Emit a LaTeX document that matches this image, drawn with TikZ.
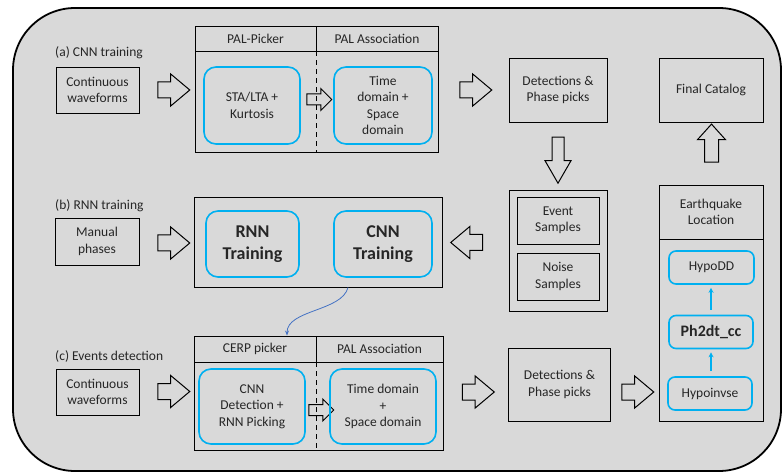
\documentclass[tikz,border=0pt]{standalone}
\usepackage{fontspec}
\setmainfont{Carlito}
\usepackage{tikz}
\usetikzlibrary{shapes.arrows, arrows.meta}
\usetikzlibrary{calc}
\definecolor{bggray}{HTML}{D9D9D9}
\definecolor{lblue}{HTML}{00B0F0}
\definecolor{cblue}{HTML}{4472C4}
\newcommand{\txt}{\fontsize{13.5}{16.5}\selectfont}
\tikzstyle{box} = [rectangle, draw = black, line width=0.9pt, align=center, inner sep=0pt, text=black!85, font=\txt]
\tikzstyle{rbox} = [rectangle, rounded corners=12pt, draw = lblue, line width=1.6pt, align=center, inner sep=0pt, text=black!85, font=\txt]
\tikzstyle{lbl} = [anchor=west, inner sep=0pt, text=black!85, font=\txt]
\tikzstyle{barrow} = [single arrow, draw = black, line width=1pt, inner xsep=0pt, inner ysep=7.5pt, single arrow head extend=8pt, single arrow tip angle=80, minimum height=32pt]
\tikzstyle{sarrow} = [single arrow, draw = black, line width=1pt, inner xsep=0pt, inner ysep=5pt, single arrow head extend=5.5pt, minimum height=25pt]
\tikzstyle{arrow} = [-{Stealth[length=5pt,width=5pt]}, draw = lblue, line width=1.6pt]
\tikzstyle{divider} = [line width=1.2pt, dash pattern=on 5pt off 4pt]

\begin{document}
\begin{tikzpicture}[x=1pt, y=-1pt]
	\useasboundingbox (0,0) rectangle (782,473);
	\draw [fill=bggray, line width=1.8pt, rounded corners=62pt] (13,8) rectangle (781,471);
	% (a) CNN training
	\node (labA) [lbl] at (55,53) {(a) CNN training};
	\node (cwA) [box, minimum width=83pt, minimum height=46pt] at (97.5,90) {Continuous\\waveforms};
	\node (arrA1) [barrow] at (169,90) {};
	\node (grpA) [box, minimum width=243pt, minimum height=126pt] at (316.5,89) {};
	\node (hdA1) [box, minimum width=121pt, minimum height=25pt] at (255.5,38.5) {PAL-Picker};
	\node (hdA2) [box, minimum width=122pt, minimum height=25pt] at (377,38.5) {PAL Association};
	\draw [divider] (hdA1.south east) -- (hdA1.east |- grpA.south);
	\node (staA) [rbox, minimum width=96pt, minimum height=77pt] at (252,105.5) {STA/LTA +\\Kurtosis};
	\node (arrA2) [sarrow] at (316.5,99.5) {};
	\node (tdA) [rbox, minimum width=98pt, minimum height=77pt] at (383,105.5) {Time\\domain +\\Space\\domain};
	\node (arrA3) [barrow] at (471,90) {};
	\node (detA) [box, minimum width=98pt, minimum height=64pt] at (558,90) {Detections \&\\Phase picks};
	\node (fin) [box, minimum width=104pt, minimum height=64pt] at (711,90) {Final Catalog};
	\node (arrD) [barrow, rotate=-90, inner ysep=5.5pt, single arrow head extend=7pt, single arrow tip angle=60, minimum height=46pt] at (558,155) {};
	% samples and location
	\node (smp) [box, minimum width=98pt, minimum height=121pt] at (558,251) {};
	\node (evt) [box, minimum width=82pt, minimum height=47pt] at (558,220.5) {Event\\Samples};
	\node (noi) [box, minimum width=82pt, minimum height=47pt] at (558,276.5) {Noise\\Samples};
	\node (arrL) [barrow, rotate=180] at (471.5,242.5) {};
	\node (eq) [box, minimum width=104pt, minimum height=236pt] at (711,303) {};
	\node (eqH) [box, minimum width=104pt, minimum height=54pt] at (711,212) {Earthquake\\Location};
	\node (hdd) [rbox, rounded corners=7pt, minimum width=85pt, minimum height=33pt] at (711.5,267.5) {HypoDD};
	\node (ph2) [rbox, rounded corners=7pt, minimum width=84pt, minimum height=33pt, font=\fontsize{16}{19}\selectfont\bfseries] at (711,332) {Ph2dt\_cc};
	\node (hinv) [rbox, rounded corners=7pt, minimum width=84pt, minimum height=33pt] at (710,393.5) {Hypoinvse};
	\draw [arrow, shorten <=5pt, shorten >=3pt] (hinv.north -| ph2.south) -- (ph2.south);
	\draw [arrow, shorten <=5pt, shorten >=3pt] (ph2.north) -- (ph2.north |- hdd.south);
	\node (arrU) [barrow, rotate=90, inner ysep=6.5pt, single arrow head extend=7pt, single arrow tip angle=84, minimum height=38pt] at (711.5,147) {};
	% (b) RNN training
	\node (labB) [lbl] at (55,206) {(b) RNN training};
	\node (mp) [box, minimum width=84pt, minimum height=47pt] at (97,241.5) {Manual\\phases};
	\node (arrB1) [barrow] at (169,243) {};
	\node (grpB) [box, minimum width=248pt, minimum height=90pt] at (318,242) {};
	\node (rnn) [rbox, minimum width=93pt, minimum height=66pt, font=\fontsize{18}{22}\selectfont\bfseries] at (252.5,244) {RNN\\Training};
	\node (cnn) [rbox, minimum width=98pt, minimum height=66pt, font=\fontsize{18}{22}\selectfont\bfseries] at (383,244) {CNN\\Training};
	% (c) Events detection
	\node (labC) [lbl] at (55,356) {(c) Events detection};
	\node (cwC) [box, minimum width=83pt, minimum height=46pt] at (97.5,392) {Continuous\\waveforms};
	\node (arrC1) [barrow] at (169,391.5) {};
	\node (grpC) [box, minimum width=249pt, minimum height=114pt] at (318.5,393) {};
	\node (hdC1) [box, minimum width=122pt, minimum height=26pt] at (255,349) {CERP picker};
	\node (hdC2) [box, minimum width=127pt, minimum height=26pt] at (379.5,349) {PAL Association};
	\draw [divider] (hdC1.south east) -- (hdC1.east |- grpC.south);
	\node (cnd) [rbox, minimum width=106pt, minimum height=75pt] at (252,406.5) {CNN\\Detection +\\RNN Picking};
	\node (arrC2) [sarrow] at (318.5,410) {};
	\node (tdC) [rbox, minimum width=106pt, minimum height=75pt] at (383,406.5) {Time domain\\+\\Space domain};
	\node (arrC3) [barrow] at (473.5,392) {};
	\node (detC) [box, minimum width=102pt, minimum height=73pt] at (559.5,384.5) {Detections \&\\Phase picks};
	\node (arrC4) [barrow] at (633,392) {};
	\draw [-{Stealth[length=5pt,width=4pt]}, draw = cblue, line width=0.8pt] ($(grpB.south)+(30,0)$) .. controls ($(grpB.south)+(24,24)$) and ($(hdC1.north)+(32,-26)$) .. ($(hdC1.north)+(32,0)$);
\end{tikzpicture}
\end{document}
